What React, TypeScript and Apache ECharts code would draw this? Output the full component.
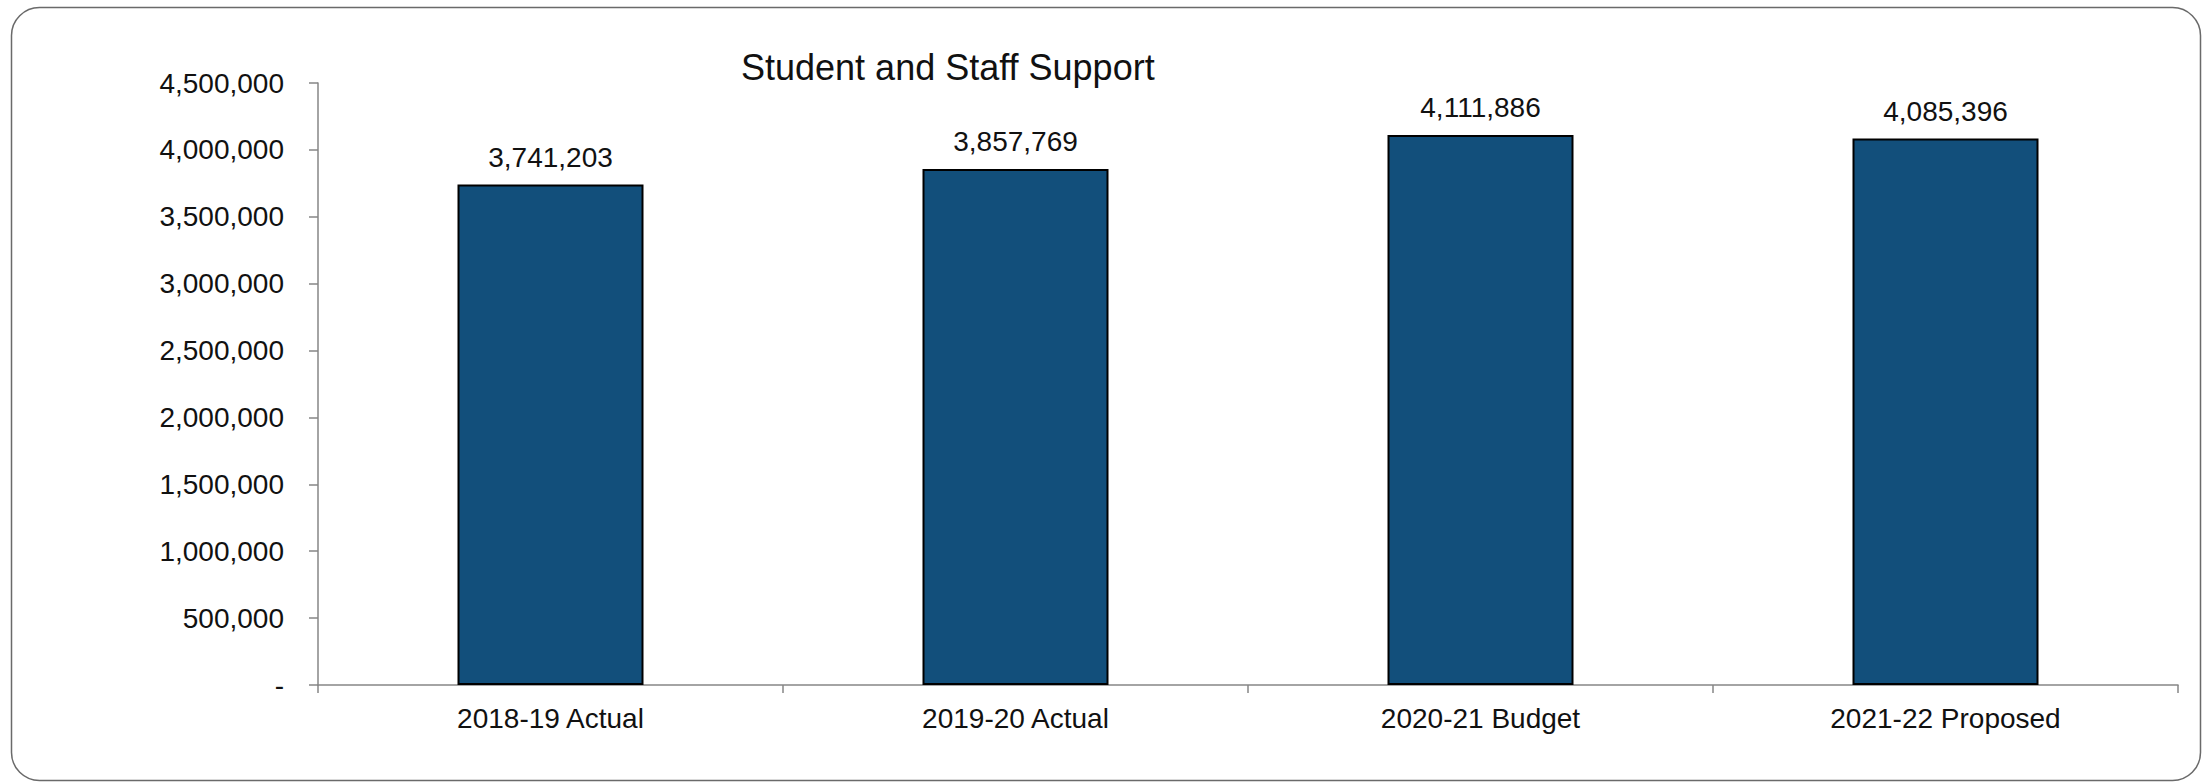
import React, { useEffect, useRef } from "react";
import * as echarts from "echarts";

const categories = ["2018-19 Actual", "2019-20 Actual", "2020-21 Budget", "2021-22 Proposed"];
const values = [3741203, 3857769, 4111886, 4085396];
const titleText = "Student and Staff Support";
const yMin = 0;
const yMax = 4500000;
const yInterval = 500000;

const FONT = "'Liberation Sans', Arial, sans-serif";
const fmt = (v: number) => (v === 0 ? "-" : v.toLocaleString("en-US"));

export default function App() {
  const ref = useRef<HTMLDivElement>(null);
  useEffect(() => {
    if (!ref.current) return;
    const chart = echarts.init(ref.current, undefined, { renderer: "svg" });
    chart.setOption({
      animation: false,
      backgroundColor: "#ffffff",
      textStyle: { fontFamily: FONT },
      title: {
        text: titleText,
        left: 741,
        top: 49,
        padding: 0,
        textStyle: { fontFamily: FONT, fontSize: 36, fontWeight: "normal", color: "#111" },
      },
      graphic: [
        {
          type: "rect",
          shape: { x: 11.5, y: 7.5, width: 2189, height: 773, r: 28 },
          style: { fill: "none", stroke: "#6a6a6a", lineWidth: 1.5 },
          silent: true,
          z: 0,
        },
      ],
      grid: { left: 318, right: 24, top: 83, bottom: 98, containLabel: false },
      xAxis: {
        type: "category",
        data: categories,
        boundaryGap: true,
        axisLine: { show: true, lineStyle: { color: "#868686", width: 1.5 } },
        axisTick: { show: true, length: 8, interval: 0, lineStyle: { color: "#868686", width: 1.5 } },
        axisLabel: { margin: 19, fontSize: 28, color: "#111", fontFamily: FONT, interval: 0 },
      },
      yAxis: {
        type: "value",
        min: yMin,
        max: yMax,
        interval: yInterval,
        splitLine: { show: false },
        axisLine: { show: true, lineStyle: { color: "#868686", width: 1.5 } },
        axisTick: { show: true, length: 9, lineStyle: { color: "#868686", width: 1.5 } },
        axisLabel: { margin: 34, fontSize: 28, color: "#111", fontFamily: FONT, formatter: (v: number) => fmt(v) },
      },
      series: [
        {
          type: "bar",
          data: values,
          barWidth: "40%",
          itemStyle: { color: "#124f7b", borderColor: "#000", borderWidth: 2 },
          label: {
            show: true,
            position: "top",
            distance: 13,
            fontSize: 28,
            color: "#111",
            fontFamily: FONT,
            formatter: (p: any) => fmt(p.value),
          },
        },
      ],
    });
    return () => chart.dispose();
  }, []);
  return (
    <div
      ref={ref}
      style={{ position: "fixed", left: 0, top: 0, width: 2202, height: 783 }}
    />
  );
}
